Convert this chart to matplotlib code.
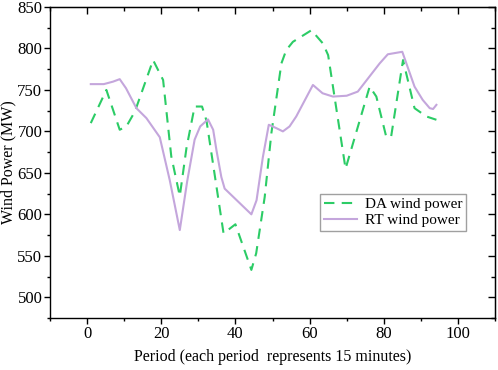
import matplotlib
matplotlib.use("Agg")
import matplotlib.pyplot as plt
from matplotlib.ticker import MultipleLocator

plt.rcParams['font.family'] = ['Liberation Serif', 'DejaVu Serif']

# DA wind power
da_period = [1, 5.2, 8.8, 10.6, 12.9, 17.8, 20.5, 22.7, 25, 26.8, 29, 31, 32.2, 36.8,
             40, 44.3, 45.6, 47.9, 49.7, 52.4, 53.7, 55.5, 60.5, 63.6, 65, 69.7,
             76.2, 78, 80.7, 82, 85.2, 88.3, 91.5, 94.2]
da_power = [710, 750, 702, 706, 724, 786, 762, 670, 622, 680, 730, 730, 713, 577,
            588, 533, 553, 621, 698, 782, 798, 808, 822, 806, 792, 655,
            754, 742, 693, 694, 786, 728, 718, 714]

# RT wind power
rt_period = [1, 4.5, 7, 8.8, 10.5, 13.3, 16, 19.6, 22.3, 25, 27, 29, 30.5, 32.6, 34,
             34.9, 36.2, 37.1, 44.3, 45.7, 47.4, 49, 51, 52.8, 54.6, 56.4, 60.9,
             63.5, 66.3, 70, 73, 78.9, 81.1, 85, 88.3, 90.5, 92.4, 93.3, 94.2]
rt_power = [757, 757, 760, 763, 752, 728, 716, 693, 641, 581, 640, 690, 706, 714.5, 702,
            677, 645, 631, 600, 617, 669, 708, 704, 700, 706, 718, 756,
            746, 742, 743, 748, 782, 793, 796, 754, 738, 728, 727, 732]

da_color = '#2ccc66'
rt_color = '#c4a6dc'

fig = plt.figure(figsize=(4.98, 3.70), dpi=100)
ax = fig.add_axes([50/498, 1-318/370, 445/498, 311/370])

ax.plot(da_period, da_power, color=da_color, lw=1.5, dashes=(5, 3.5), label='DA wind power')
ax.plot(rt_period, rt_power, color=rt_color, lw=1.5, label='RT wind power')

ax.set_xlim(-10, 110)
ax.set_ylim(475, 850)
ax.xaxis.set_major_locator(MultipleLocator(20))
ax.xaxis.set_minor_locator(MultipleLocator(10))
ax.yaxis.set_major_locator(MultipleLocator(50))
ax.yaxis.set_minor_locator(MultipleLocator(25))
ax.tick_params(which='major', direction='out', length=4, width=1, labelsize=12, pad=1.5)
ax.tick_params(which='minor', direction='out', length=2.5, width=1)
for s in ax.spines.values():
    s.set_linewidth(1.0)

top = ax.secondary_xaxis('top')
top.xaxis.set_major_locator(MultipleLocator(20))
top.xaxis.set_minor_locator(MultipleLocator(10))
top.tick_params(which='both', direction='in', labeltop=False, length=5, width=1)
top.tick_params(which='minor', length=3)
right = ax.secondary_yaxis('right')
right.yaxis.set_major_locator(MultipleLocator(50))
right.yaxis.set_minor_locator(MultipleLocator(25))
right.tick_params(which='both', direction='in', labelright=False, length=5, width=1)
right.tick_params(which='minor', length=3)

ax.set_xlabel('Period (each period  represents 15 minutes)', fontsize=11.5, labelpad=5)
ax.set_ylabel('Wind Power (MW)', fontsize=11.5, labelpad=1)

leg = ax.legend(loc='upper right', bbox_to_anchor=(0.935, 0.399), borderaxespad=0,
                fancybox=False, edgecolor='#888888', fontsize=11,
                handlelength=2.2, handletextpad=0.5, borderpad=0.25, labelspacing=0.15)
leg.get_frame().set_linewidth(1.0)

fig.savefig('out.png', dpi=100)
